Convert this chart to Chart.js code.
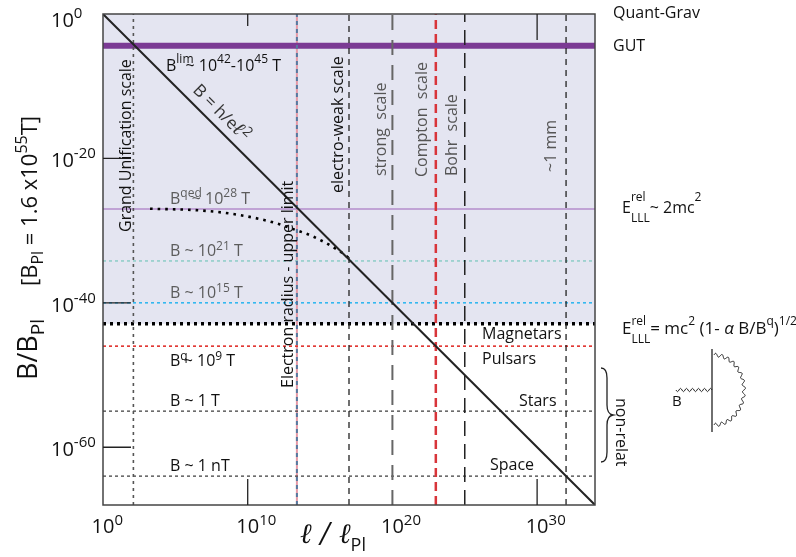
<!DOCTYPE html>
<html><head><meta charset="utf-8">
<script src="https://cdn.jsdelivr.net/npm/chart.js@4/dist/chart.umd.min.js"></script>
<style>html,body{margin:0;padding:0;background:#fff}#wrap{width:796px;height:557px;position:relative}</style>
</head><body><div id="wrap"><canvas id="c"></canvas></div>
<script>
// ---- data (log10 units) ----
const xRange = [0, 34];            // log10(l / l_Pl)
const yRange = [-68, 0];           // log10(B / B_Pl)
const xTickExps = [0, 10, 20, 30];
const yTickExps = [0, -20, -40, -60];
const diagX = [0, 34];             // B = h/e l^2
const diagY = [0, -68];
const qedX = [3.25, 6.7, 9.0, 10.85, 12.0, 13.3, 14.5, 16.4, 17.0];
const qedY = [-26.97, -27.2, -27.7, -28.4, -29.0, -29.9, -30.8, -32.9, -33.8];
const levelNames = ['GUT', 'qed', 'B21', 'B15', 'magnetar', 'Bq', 'B1T', 'B1nT'];
const levelExps  = [-4.4, -27.0, -34.2, -40.0, -42.9, -46.0, -55.0, -64.0];
const scaleNames = ['grand', 'electron', 'ew', 'strong', 'compton', 'bohr', 'mm'];
const scaleExps  = [2.1, 13.4, 17.0, 20.0, 23.0, 25.0, 32.0];
const shadeRange = [-42.9, 0];

// ---- styles ----
const levelStyle = {
  GUT:      {c:'#7b3a94', w:6,   d:[]},
  qed:      {c:'#b48ccb', w:1.5, d:[]},
  B21:      {c:'#8ccdc6', w:1.5, d:[3,3]},
  B15:      {c:'#27b4ef', w:1.5, d:[3,3]},
  magnetar: {c:'#000000', w:3.5, d:[3,4]},
  Bq:       {c:'#e0302c', w:1.6, d:[3,3]},
  B1T:      {c:'#444444', w:1.3, d:[3,3]},
  B1nT:     {c:'#444444', w:1.3, d:[3,3]}
};
const scaleStyle = {
  grand:    {c:'#555555', w:1.6, d:[3,4]},
  electron: {c:'#56799f', w:2,   d:[4,4]},
  ew:       {c:'#222222', w:1.3, d:[6,5]},
  strong:   {c:'#666666', w:2,   d:[15,10]},
  compton:  {c:'#d8353a', w:2.5, d:[9,5]},
  bohr:     {c:'#222222', w:1.5, d:[15,8]},
  mm:       {c:'#222222', w:1.3, d:[6,5]}
};

const FONT = '"Open Sans", "Noto Sans", sans-serif';
const datasets = [];
function seg(xs, ys, st, order, extra) {
  datasets.push(Object.assign({
    data: xs.map((x, i) => ({x, y: ys[i]})),
    borderColor: st.c, borderWidth: st.w, borderDash: st.d,
    pointRadius: 0, showLine: true, fill: false, tension: 0, order
  }, extra || {}));
}
seg(diagX, diagY, {c:'#232323', w:2, d:[]}, 1);
seg(qedX, qedY, {c:'#000', w:2.6, d:[2.6,5]}, 2, {tension:0.35, cubicInterpolationMode:'monotone', borderCapStyle:'butt'});
scaleNames.forEach((n, i) => {
  seg([scaleExps[i], scaleExps[i]], yRange, scaleStyle[n], 10 + i);
  if (n === 'electron') seg([scaleExps[i], scaleExps[i]], yRange, {c:'#e59aa6', w:2, d:[]}, 30);
});
levelNames.forEach((n, i) => {
  seg(xRange, [levelExps[i], levelExps[i]], levelStyle[n], 20 + i);
});

// rich text: parts {t, k:'^'|'_', f, back} or {sup, sub}
function rich(ctx, parts, x, y, size, color, opt) {
  opt = opt || {};
  const fam = opt.fam || FONT;
  const sm = opt.sm || Math.round(size * 0.7);
  const supOff = opt.supOff != null ? opt.supOff : -size * 0.42;
  const subOff = opt.subOff != null ? opt.subOff : size * 0.3;
  const fnt = (s, p) => (p && p.f) ? p.f : `${s}px ${fam}`;
  let w = 0;
  const widths = parts.map(p => {
    let ww;
    if (p.sup != null) {
      ctx.font = fnt(sm);
      ww = Math.max(ctx.measureText(p.sup).width, ctx.measureText(p.sub).width);
    } else {
      ctx.font = fnt(p.k ? sm : size, p);
      ww = ctx.measureText(p.t).width;
    }
    w += ww - (p.back || 0); return ww;
  });
  let cx = x;
  if (opt.align === 'center') cx = x - w / 2;
  if (opt.align === 'right') cx = x - w;
  ctx.fillStyle = color;
  ctx.textBaseline = 'alphabetic';
  ctx.textAlign = 'left';
  parts.forEach((p, i) => {
    cx -= (p.back || 0);
    if (p.sup != null) {
      ctx.font = fnt(sm);
      ctx.fillText(p.sup, cx, y + supOff);
      ctx.fillText(p.sub, cx, y + subOff);
    } else {
      ctx.font = fnt(p.k ? sm : size, p);
      const dy = p.k === '^' ? supOff : p.k === '_' ? subOff : 0;
      ctx.fillText(p.t, cx, y + dy);
    }
    cx += widths[i];
  });
  return w;
}
function rotText(ctx, x, y, ang, fn) {
  ctx.save(); ctx.translate(x, y); ctx.rotate(ang); fn(); ctx.restore();
}

const overlay = {
  id: 'overlay',
  beforeDatasetsDraw(chart) {
    const {ctx, chartArea: a, scales: {x, y}} = chart;
    ctx.save();
    ctx.fillStyle = '#e4e5f1';
    const y1 = y.getPixelForValue(shadeRange[1]), y0 = y.getPixelForValue(shadeRange[0]);
    ctx.fillRect(a.left, y1, a.right - a.left, y0 - y1);
    ctx.restore();
  },
  afterDatasetsDraw(chart) {
    const {ctx, chartArea: a, scales: {x, y}} = chart;
    ctx.save();
    // frame
    ctx.strokeStyle = '#444'; ctx.lineWidth = 1.5; ctx.setLineDash([]);
    ctx.strokeRect(a.left, a.top, a.right - a.left, a.bottom - a.top);
    // inner ticks
    ctx.strokeStyle = '#222'; ctx.lineWidth = 1.3;
    ctx.beginPath();
    yTickExps.forEach(v => { if (v !== 0) { const py = y.getPixelForValue(v); ctx.moveTo(a.left, py); ctx.lineTo(a.left + 28, py); } });
    [[10, 12], [30, 26]].forEach(([v, len]) => { const px = x.getPixelForValue(v); ctx.moveTo(px, a.top); ctx.lineTo(px, a.top + len); });
    [10, 30].forEach(v => { const px = x.getPixelForValue(v); ctx.moveTo(px, a.bottom); ctx.lineTo(px, a.bottom - 26); });
    ctx.stroke();
    // tick labels
    xTickExps.forEach(v => {
      const px = x.getPixelForValue(v);
      ctx.font = `20px ${FONT}`;
      const bw = ctx.measureText('10').width;
      rich(ctx, [{t:'10'}, {t:String(v), k:'^'}], px - bw / 2, 533, 20, '#111', {sm:15, supOff:-8});
    });
    yTickExps.forEach(v => {
      const py = y.getPixelForValue(v);
      rich(ctx, [{t:'10'}, {t:String(v), k:'^'}], 51, v === 0 ? 27 : py + 9, 20, '#111', {sm:15, supOff:-9});
    });
    // axis titles
    rotText(ctx, 37, 380, -Math.PI / 2, () => {
      rich(ctx, [{t:'B/B'}, {t:'Pl', k:'_'}], 0, 0, 27, '#111', {sm:19, subOff:7});
      rich(ctx, [{t:'[B'}, {t:'Pl', k:'_'}, {t:' = 1.6 x10'}, {t:'55', k:'^'}, {t:'T]'}], 94, 0, 22, '#111', {sm:16, subOff:6, supOff:-10});
    });
    rich(ctx, [{t:'ℓ / ℓ', f:'italic 28px "DejaVu Serif", serif'}, {t:'Pl', k:'_'}], 300, 543, 28, '#111', {sm:18, subOff:8});

    // vertical scale labels
    const vlab = (txt, xb, ybot, col) => rotText(ctx, xb, ybot, -Math.PI / 2, () => {
      ctx.font = `16px ${FONT}`; ctx.fillStyle = col; ctx.textAlign = 'left'; ctx.textBaseline = 'alphabetic';
      ctx.fillText(txt, 0, 0);
    });
    vlab('Grand Unification scale', 131, 232, '#111');
    vlab('Electron radius - upper limit', 293, 388, '#111');
    vlab('electro-weak scale', 343, 193, '#111');
    vlab('strong  scale', 386, 176, '#555');
    vlab('Compton  scale', 427, 177, '#555');
    vlab('Bohr  scale', 457, 176, '#555');
    vlab('~1 mm', 556, 172, '#555');

    // diagonal label
    rotText(ctx, 192, 91, Math.PI / 4, () => {
      rich(ctx, [{t:'B = h/e'}, {t:'ℓ', f:'italic bold 20px "DejaVu Serif", serif'}, {t:'2', k:'^'}], 0, 0, 17, '#333', {sm:14, supOff:-6});
    });

    // horizontal labels
    const S = 16;
    rich(ctx, [{t:'B'}, {t:'lim', k:'^'}, {t:'~ 10', back:8}, {t:'42', k:'^'}, {t:'-10'}, {t:'45', k:'^'}, {t:' T'}], 166, 71, S, '#111', {sm:12, supOff:-8});
    rich(ctx, [{t:'B'}, {t:'qed', k:'^'}, {t:'~ 10', back:10}, {t:'28', k:'^'}, {t:' T'}], 170, 204, S, '#5c5c5c', {sm:12, supOff:-7});
    rich(ctx, [{t:'B ~ 10'}, {t:'21', k:'^'}, {t:' T'}], 170, 256, S, '#5c5c5c', {sm:12, supOff:-6});
    rich(ctx, [{t:'B ~ 10'}, {t:'15', k:'^'}, {t:' T'}], 170, 298, S, '#5c5c5c', {sm:12, supOff:-6});
    rich(ctx, [{t:'B'}, {t:'q', k:'^'}, {t:'~ 10', back:4}, {t:'9', k:'^'}, {t:' T'}], 170, 366, S, '#111', {sm:12, supOff:-6});
    rich(ctx, [{t:'B ~ 1 T'}], 170, 406, S, '#111');
    rich(ctx, [{t:'B ~ 1 nT'}], 170, 471, S, '#111');
    rich(ctx, [{t:'Magnetars'}], 482, 339, S, '#111');
    rich(ctx, [{t:'Pulsars'}], 482, 364, S, '#111');
    rich(ctx, [{t:'Stars'}], 519, 406, S, '#111');
    rich(ctx, [{t:'Space'}], 490, 470, S, '#111');

    // right side labels
    rich(ctx, [{t:'Quant-Grav'}], 613, 18, S, '#111');
    rich(ctx, [{t:'GUT'}], 613, 51, S, '#111');
    rich(ctx, [{t:'E'}, {sup:'rel', sub:'LLL'}, {t:'~ 2mc'}, {t:'2', k:'^'}], 622, 213, S, '#111', {sm:12, supOff:-12, subOff:9});
    rich(ctx, [{t:'E'}, {sup:'rel', sub:'LLL'}, {t:'= mc'}, {t:'2', k:'^'}, {t:' (1- '}, {t:'α', f:`italic 17px ${FONT}`}, {t:' B/B'}, {t:'q', k:'^'}, {t:')'}, {t:'1/2', k:'^'}], 622, 334, 17, '#111', {sm:12, supOff:-9, subOff:9});

    // brace
    ctx.strokeStyle = '#222'; ctx.lineWidth = 1.3; ctx.setLineDash([]);
    ctx.beginPath();
    ctx.moveTo(601, 368);
    ctx.quadraticCurveTo(607, 368, 607, 378);
    ctx.lineTo(607, 405);
    ctx.quadraticCurveTo(607, 414, 613, 415);
    ctx.quadraticCurveTo(607, 416, 607, 425);
    ctx.lineTo(607, 452);
    ctx.quadraticCurveTo(607, 462, 601, 462);
    ctx.stroke();
    rotText(ctx, 616, 398, Math.PI / 2, () => {
      ctx.font = `16px ${FONT}`; ctx.fillStyle = '#111'; ctx.textAlign = 'left';
      ctx.fillText('non-relat', 0, 0);
    });

    // Feynman diagram
    ctx.beginPath(); ctx.moveTo(712, 349); ctx.lineTo(712, 432); ctx.stroke();
    ctx.lineWidth = 1;
    ctx.beginPath();
    for (let i = 0; i <= 60; i++) {
      const px = 676 + (712 - 676) * i / 60;
      const py = 390 + 1.6 * Math.sin(i / 60 * Math.PI * 2 * 6);
      i === 0 ? ctx.moveTo(px, py) : ctx.lineTo(px, py);
    }
    ctx.stroke();
    ctx.beginPath();
    for (let i = 0; i <= 200; i++) {
      const t = -Math.PI / 2 + Math.PI * i / 200;
      const r = 1 + 0.05 * Math.sin(i / 200 * Math.PI * 2 * 15);
      const px = 714 + 30 * Math.cos(t) * r;
      const py = 390 + 35 * Math.sin(t) * r;
      i === 0 ? ctx.moveTo(px, py) : ctx.lineTo(px, py);
    }
    ctx.stroke();
    rich(ctx, [{t:'B'}], 672, 406, 15, '#111');
    ctx.restore();
  }
};

new Chart(document.getElementById('c'), {
  type: 'scatter',
  data: {datasets},
  options: {
    responsive: true, maintainAspectRatio: false, animation: false, events: [],
    layout: {padding: {left: 103, right: 201, top: 14, bottom: 52}},
    plugins: {legend: {display: false}, tooltip: {enabled: false}},
    scales: {
      x: {type: 'linear', min: xRange[0], max: xRange[1], display: false},
      y: {type: 'linear', min: yRange[0], max: yRange[1], display: false}
    }
  },
  plugins: [overlay]
});
</script></body></html>
